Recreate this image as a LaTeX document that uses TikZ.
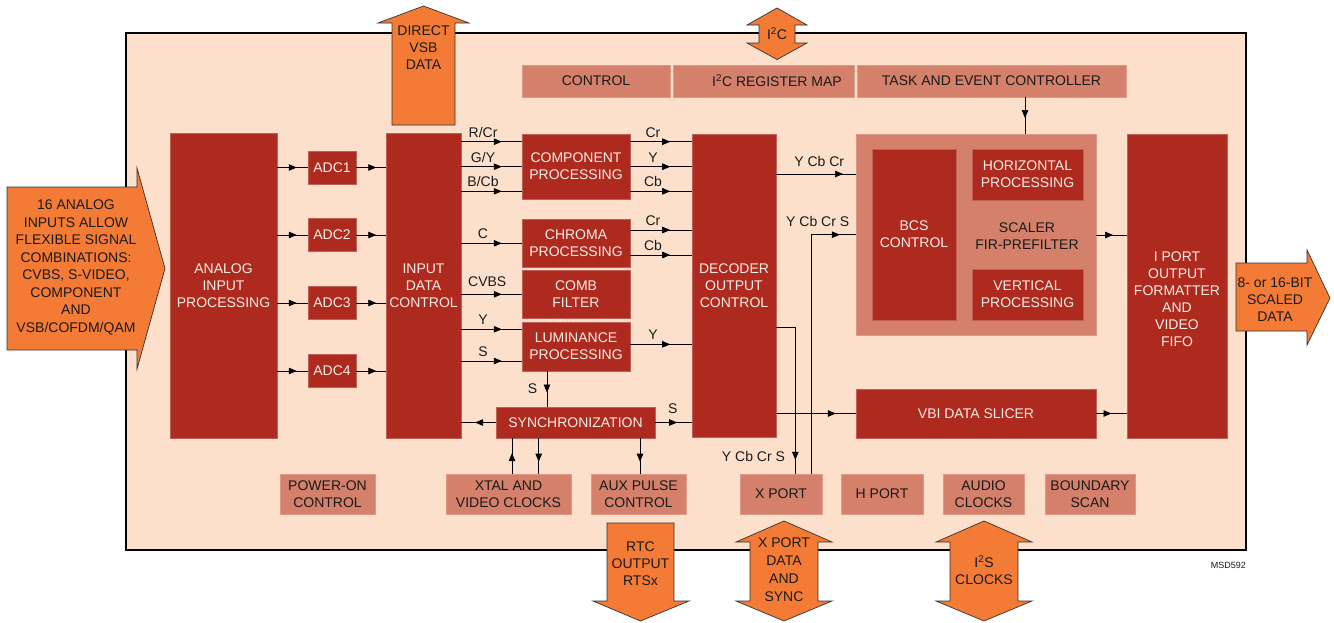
\documentclass[tikz,border=0pt]{standalone}
\usepackage{fontspec}
\setmainfont{Liberation Sans}
\usetikzlibrary{arrows.meta,decorations.markings,calc}
\definecolor{peach}{HTML}{FDE0CC}
\definecolor{dred}{HTML}{AE2A1E}
\definecolor{salmon}{HTML}{D4806A}
\definecolor{orng}{HTML}{F47B36}
\definecolor{ltxt}{HTML}{FBEDE6}
\definecolor{dtxt}{HTML}{1A1A1A}
\tikzset{
  every node/.style={font=\fontsize{14}{17}\selectfont, align=center},
  wh/.style 2 args={minimum width=#1pt, minimum height=#2pt},
  dbox/.style={fill=dred, draw=dred!75!white, line width=0.5pt, text=ltxt, inner sep=0pt},
  sbox/.style={fill=salmon, draw=salmon!80!white, line width=0.5pt, text=dtxt, inner sep=0pt},
  bigarrow/.style={fill=orng, draw=black!80, line width=0.7pt},
  atext/.style={text=dtxt},
  midarr/.style={line width=0.7pt, draw=black, postaction={decorate},
    decoration={markings, mark=at position #1 with {\arrow{Triangle[length=8pt,width=6.5pt]}}}},
  midarr/.default=0.6,
  lab/.style={font=\fontsize{14}{17}\selectfont, text=dtxt, text depth=0pt, inner sep=0pt, above, yshift=4pt},
}
\begin{document}
\begin{tikzpicture}[x=1pt,y=-1pt]
\useasboundingbox (0,0) rectangle (1334,622);
% frame
\node[draw=black, line width=1.4pt, fill=peach, wh={1120}{517}, inner sep=0pt] (frame) at (686,291.5) {};

% big orange arrows
\draw[bigarrow] (7,187) -- (137,187) -- (137,168) -- (165,268.5) -- (137,369) -- (137,350) -- (7,350) -- cycle;
\node[atext, font=\fontsize{14}{17.5}\selectfont] (intxt) at (76,267.5) {16 ANALOG\\INPUTS ALLOW\\FLEXIBLE SIGNAL\\COMBINATIONS:\\CVBS, S-VIDEO,\\COMPONENT\\AND\\VSB/COFDM/QAM};

\draw[bigarrow] (392,125) -- (392,23) -- (378,23) -- (423.5,6) -- (469,23) -- (455,23) -- (455,125) -- cycle;
\node[atext] (vsbtxt) at (423.5,48) {DIRECT\\VSB\\DATA};

\draw[bigarrow] (759,25) -- (747,25) -- (777,8) -- (807,25) -- (795,25) -- (795,43) -- (807,43) -- (777,59.5) -- (747,43) -- (759,43) -- cycle;
\node[atext] (i2ctxt) at (777,33.5) {I\textsuperscript{2}C};

\draw[bigarrow] (1236,263) -- (1307,263) -- (1307,250) -- (1330,298) -- (1307,345) -- (1307,331) -- (1236,331) -- cycle;
\node[atext] (outtxt) at (1275,299.5) {8- or 16-BIT\\SCALED\\DATA};

\draw[bigarrow] (607,523) -- (674,523) -- (674,601) -- (689,601) -- (640.5,621) -- (593,601) -- (607,601) -- cycle;
\node[atext] (rtctxt) at (640.5,564) {RTC\\OUTPUT\\RTSx};

\draw[bigarrow] (750,542) -- (736,542) -- (784,521) -- (832,542) -- (818,542) -- (818,601) -- (832,601) -- (784,621) -- (736,601) -- (750,601) -- cycle;
\node[atext, font=\fontsize{14}{18}\selectfont] (xptxt) at (784,570) {X PORT\\DATA\\AND\\SYNC};

\draw[bigarrow] (950,542) -- (936,542) -- (984,521) -- (1032,542) -- (1018,542) -- (1018,601) -- (1032,601) -- (984,621) -- (936,601) -- (950,601) -- cycle;
\node[atext] (i2stxt) at (984,570) {I\textsuperscript{2}S\\CLOCKS};

% dark blocks
\node[dbox, wh={107}{305}] (aip) at (223.5,285.5) {ANALOG\\INPUT\\PROCESSING};
\node[dbox, wh={75}{305}] (idc) at (423.5,285.5) {INPUT\\DATA\\CONTROL};
\foreach \i/\y in {1/167.5,2/235,3/303,4/371}
  \node[dbox, wh={48}{33}] (adc\i) at (332,\y) {ADC\i};
\node[dbox, wh={108}{65}] (comp) at (576,166.5) {COMPONENT\\PROCESSING};
\node[dbox, wh={108}{48}] (chroma) at (576,243) {CHROMA\\PROCESSING};
\node[dbox, wh={108}{48}] (comb) at (576,294) {COMB\\FILTER};
\node[dbox, wh={108}{49}] (lum) at (576,346.5) {LUMINANCE\\PROCESSING};
\node[dbox, wh={159}{31}] (sync) at (575.5,422.5) {SYNCHRONIZATION};
\node[dbox, wh={84}{303}] (doc) at (734,285.5) {DECODER\\OUTPUT\\CONTROL};
\node[sbox, wh={240}{201}] (scaler) at (976,234.5) {};
\node[atext] (scalertxt) at (1027,236) {SCALER\\FIR-PREFILTER};
\node[dbox, wh={84}{171}] (bcs) at (914,234.5) {BCS\\CONTROL};
\node[dbox, wh={111}{51}] (horiz) at (1027.5,174.5) {HORIZONTAL\\PROCESSING};
\node[dbox, wh={111}{51}] (vert) at (1027.5,294.5) {VERTICAL\\PROCESSING};
\node[dbox, wh={100}{304}] (iport) at (1177,286) {};
\node[text=ltxt] (iporttxt) at (1177,299) {I PORT\\OUTPUT\\FORMATTER\\AND\\VIDEO\\FIFO};
\node[dbox, wh={240}{49}] (vbi) at (976,413.5) {VBI DATA SLICER};

% salmon blocks
\node[sbox, wh={148}{32}] (control) at (596,81) {CONTROL};
\node[sbox, wh={181}{32}] (i2cmap) at (763.5,81) {};
\node[atext] (i2cmaptxt) at (777,81) {I\textsuperscript{2}C REGISTER MAP};
\node[sbox, wh={269}{32}] (task) at (991.5,81) {TASK AND EVENT CONTROLLER};
\node[sbox, wh={95}{40}] (poweron) at (327.5,494) {POWER-ON\\CONTROL};
\node[sbox, wh={125}{40}] (xtal) at (508.5,494) {XTAL AND\\VIDEO CLOCKS};
\node[sbox, wh={95}{40}] (aux) at (638.5,494) {AUX PULSE\\CONTROL};
\node[sbox, wh={82}{40}] (xport) at (781,494) {X PORT};
\node[sbox, wh={82}{40}] (hport) at (882,494) {H PORT};
\node[sbox, wh={81}{40}] (audio) at (983.5,494) {AUDIO\\CLOCKS};
\node[sbox, wh={90}{40}] (bscan) at (1090,494) {BOUNDARY\\SCAN};

\node[anchor=east, font=\fontsize{9}{10}\selectfont, inner sep=0pt, text=dtxt] (msd) at (1246,565) {MSD592};

% connectors
\foreach \i in {1,...,4} {
  \draw[midarr=0.64] (aip.east |- adc\i.west) -- (adc\i.west);
  \draw[midarr=0.68] (adc\i.east) -- (idc.west |- adc\i.east);
}
\draw[midarr=0.67] (idc.east |- 0,141.7) -- node[lab,pos=0.36]{R/Cr} (comp.west |- 0,141.7);
\draw[midarr=0.67] (idc.east |- 0,166.7) -- node[lab,pos=0.36]{G/Y} (comp.west |- 0,166.7);
\draw[midarr=0.67] (idc.east |- 0,191.3) -- node[lab,pos=0.36]{B/Cb} (comp.west |- 0,191.3);
\draw[midarr=0.67] (idc.east |- 0,243.3) -- node[lab,pos=0.36]{C} (chroma.west |- 0,243.3);
\draw[midarr=0.67] (idc.east |- 0,294.3) -- node[lab,pos=0.43,yshift=3.5pt]{CVBS} (comb.west |- 0,294.3);
\draw[midarr=0.67] (idc.east |- 0,329.3) -- node[lab,pos=0.36]{Y} (lum.west |- 0,329.3);
\draw[midarr=0.67] (idc.east |- 0,361) -- node[lab,pos=0.36]{S} (lum.west |- 0,361);

\draw[midarr=0.65] (comp.east |- 0,141.7) -- node[lab,pos=0.37]{Cr} (doc.west |- 0,141.7);
\draw[midarr=0.65] (comp.east |- 0,166.7) -- node[lab,pos=0.37]{Y} (doc.west |- 0,166.7);
\draw[midarr=0.65] (comp.east |- 0,191.3) -- node[lab,pos=0.37]{Cb} (doc.west |- 0,191.3);
\draw[midarr=0.65] (chroma.east |- 0,230) -- node[lab,pos=0.37]{Cr} (doc.west |- 0,230);
\draw[midarr=0.65] (chroma.east |- 0,255) -- node[lab,pos=0.37]{Cb} (doc.west |- 0,255);
\draw[midarr=0.65] (lum.east |- 0,344.3) -- node[lab,pos=0.37]{Y} (doc.west |- 0,344.3);

\draw[midarr=0.6] (lum.south -| 547,0) -- node[pos=0.5, left, inner sep=0pt, xshift=-9.5pt, text=dtxt]{S} (sync.north -| 547,0);
\draw[midarr=0.6] (sync.west) -- (idc.east |- sync.west);
\draw[midarr=0.6] (sync.east) -- node[lab,pos=0.48,yshift=4.5pt]{S} (doc.west |- sync.east);
\draw[midarr=0.58] (xtal.north -| 512,0) -- (sync.south -| 512,0);
\draw[midarr=0.66] (sync.south -| 538.7,0) -- (xtal.north -| 538.7,0);
\draw[midarr=0.66] (sync.south -| 640,0) -- (aux.north -| 640,0);

\draw[midarr=0.84] (doc.east |- 0,174) -- node[lab,pos=0.54,yshift=3.3pt]{Y Cb Cr} (scaler.west |- 0,174);
\draw[midarr=0.944] (xport.north -| 811,0) |- node[lab,pos=0.575,yshift=4pt]{Y Cb Cr S} (scaler.west |- 0,234.7);
\draw[midarr=0.916] (doc.east |- 0,327) -| node[pos=0.94, left, inner sep=0pt, xshift=-10pt, text=dtxt]{Y Cb Cr S} (xport.north -| 795.3,0);
\draw[midarr=0.75] (doc.east |- vbi.west) -- (vbi.west);
\draw[midarr=0.57] (task.south -| 1025,0) -- (scaler.north -| 1025,0);
\draw[midarr=0.55] (scaler.east |- 0,235) -- (iport.west |- 0,235);
\draw[midarr=0.5] (vbi.east) -- (iport.west |- vbi.east);
\end{tikzpicture}
\end{document}
